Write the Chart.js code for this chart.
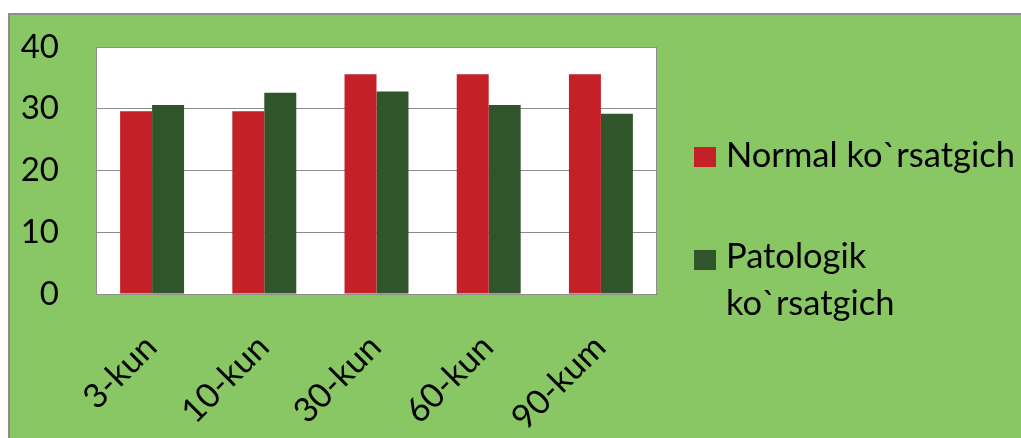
<!DOCTYPE html>
<html>
<head>
<meta charset="utf-8">
<script src="https://cdn.jsdelivr.net/npm/chart.js@4.4.1/dist/chart.umd.min.js"></script>
<style>
  html, body { margin: 0; padding: 0; background: #fff; }
  #wrap { width: 1021px; height: 438px; }
</style>
</head>
<body>
<div id="wrap"><canvas id="barchart"></canvas></div>
<script>
const categories = ['3-kun', '10-kun', '30-kun', '60-kun', '90-kum'];
const normalValues = [29.6, 29.6, 35.6, 35.6, 35.6];
const patologikValues = [30.6, 32.6, 32.8, 30.6, 29.2];
const yTicks = [0, 10, 20, 30, 40];
const seriesNames = ['Normal ko`rsatgich', ['Patologik', 'ko`rsatgich']];

const RED = '#c32027';
const DARK = '#30552a';
const BG = '#88c764';
const LINE = '#8c8c8c';

Chart.defaults.font.family = 'Lato';

// green frame + white plot area
const background = {
  id: 'background',
  beforeDraw(chart) {
    const c = chart.ctx, a = chart.chartArea;
    c.save();
    c.fillStyle = '#fff';
    c.fillRect(0, 0, chart.width, chart.height);
    c.fillStyle = BG;
    c.fillRect(8, 13, chart.width - 8, chart.height - 13);
    c.strokeStyle = LINE;
    c.lineWidth = 2;
    c.beginPath();
    c.moveTo(9, chart.height);
    c.lineTo(9, 14);
    c.lineTo(chart.width, 14);
    c.stroke();
    c.fillStyle = '#fff';
    c.fillRect(a.left, a.top, a.right - a.left, a.bottom - a.top);
    c.restore();
  },
  beforeDatasetsDraw(chart) {
    const c = chart.ctx, a = chart.chartArea;
    c.save();
    c.strokeStyle = LINE;
    c.lineWidth = 1;
    c.strokeRect(a.left + 0.5, a.top + 0.5, a.right - a.left - 1, a.bottom - a.top);
    c.restore();
  }
};

// legend drawn at the right like the original
const sideLegend = {
  id: 'sideLegend',
  afterDraw(chart) {
    const c = chart.ctx;
    const rows = [{ y: 147, base: 167 }, { y: 250, base: 268 }];
    c.save();
    c.font = '34.5px Lato';
    c.textBaseline = 'alphabetic';
    chart.data.datasets.forEach((ds, i) => {
      const r = rows[i];
      c.fillStyle = ds.backgroundColor;
      c.fillRect(694, r.y, 22, 20);
      c.fillStyle = '#000';
      const lines = Array.isArray(ds.label) ? ds.label : [ds.label];
      lines.forEach((t, j) => c.fillText(t, 726, r.base + j * 47));
    });
    c.restore();
  }
};

const ctx = document.getElementById('barchart').getContext('2d');
const barchart = new Chart(ctx, {
  type: 'bar',
  data: {
    labels: categories,
    datasets: [{
      label: seriesNames[0],
      data: normalValues,
      backgroundColor: RED
    }, {
      label: seriesNames[1],
      data: patologikValues,
      backgroundColor: DARK
    }]
  },
  options: {
    responsive: true,
    maintainAspectRatio: false,
    animation: false,
    devicePixelRatio: 1,
    categoryPercentage: 0.57,
    barPercentage: 1,
    layout: { padding: { top: 47, right: 364, left: 0, bottom: 0 } },
    plugins: {
      legend: { display: false },
      tooltip: { enabled: false }
    },
    scales: {
      x: {
        grid: { display: false },
        border: { display: true, color: LINE },
        ticks: {
          color: '#000',
          font: { size: 34 },
          minRotation: 45,
          maxRotation: 45,
          autoSkip: false,
          padding: 25,
          labelOffset: -1
        },
        afterFit(scale) {
          scale.height = 144;
          scale.paddingLeft = 0;
          scale.paddingRight = 0;
        }
      },
      y: {
        min: 0,
        max: 40,
        afterBuildTicks(scale) { scale.ticks = yTicks.map(v => ({ value: v })); },
        grid: { color: LINE, drawTicks: false },
        border: { display: true, color: LINE },
        ticks: {
          color: '#000',
          font: { size: 33 },
          padding: 37
        },
        afterFit(scale) {
          scale.width = 96;
          scale.paddingTop = 0;
          scale.paddingBottom = 0;
        }
      }
    }
  },
  plugins: [background, sideLegend]
});
</script>
</body>
</html>
